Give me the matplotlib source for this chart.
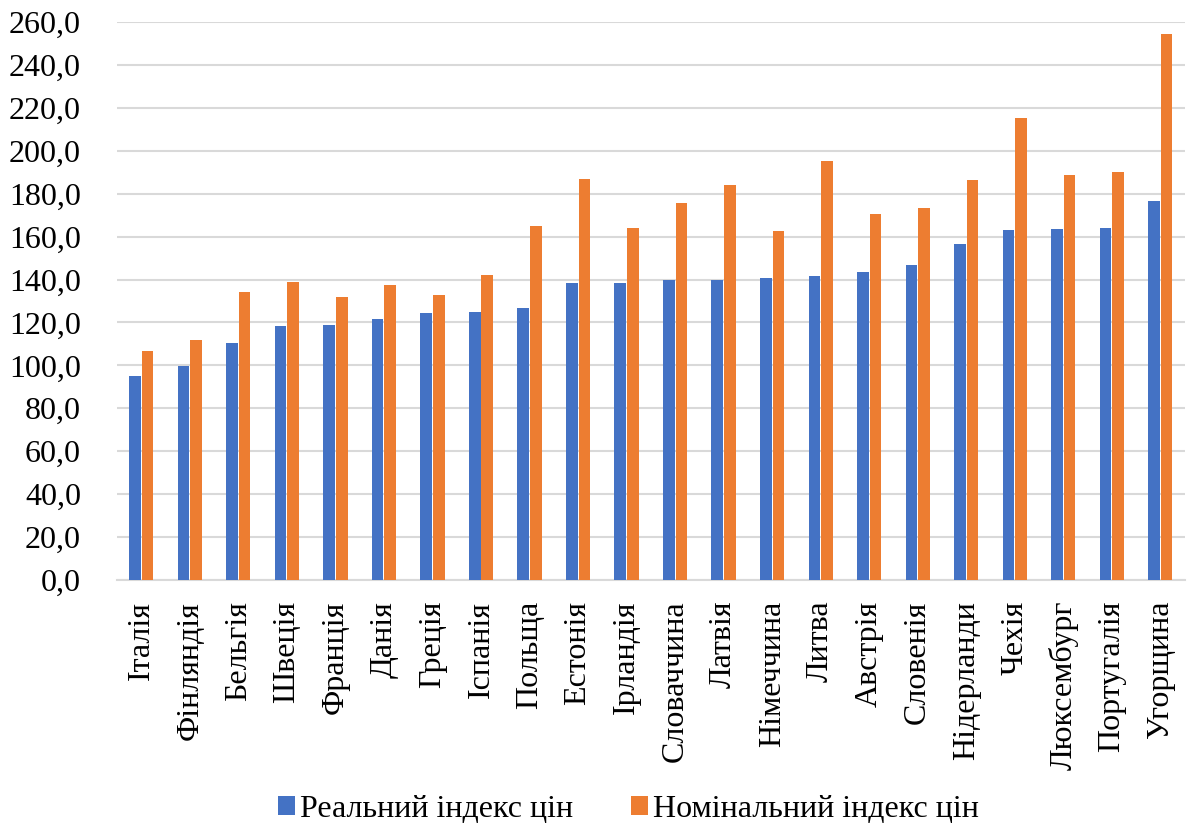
import matplotlib.pyplot as plt
import numpy as np

countries = ['Італія', 'Фінляндія', 'Бельгія', 'Швеція', 'Франція', 'Данія',
             'Греція', 'Іспанія', 'Польща', 'Естонія', 'Ірландія', 'Словаччина',
             'Латвія', 'Німеччина', 'Литва', 'Австрія', 'Словенія', 'Нідерланди',
             'Чехія', 'Люксембург', 'Португалія', 'Угорщина']
real_idx = [95.2, 99.5, 110.4, 118.3, 119.0, 121.5, 124.4, 125.0, 126.8, 138.2,
            138.4, 139.6, 139.6, 140.5, 141.7, 143.5, 146.9, 156.4, 163.3, 163.7,
            164.2, 176.7]
nominal_idx = [106.9, 111.7, 134.2, 139.0, 131.9, 137.4, 132.6, 142.1, 165.1, 186.9,
               164.0, 175.6, 184.0, 162.8, 195.1, 170.7, 173.5, 186.4, 215.2, 188.5,
               190.1, 254.5]
yticks = np.arange(0, 261, 20)

plt.rcParams['font.family'] = ['Liberation Serif', 'DejaVu Serif']

fig = plt.figure(figsize=(11.87, 8.27), dpi=100)
ax = fig.add_axes([0.0986, 0.2987, 0.8994, 0.6747])

x = np.arange(len(countries))
w = 0.24
ax.bar(x - 0.13, real_idx, w, color='#4472c4', label='Реальний індекс цін', zorder=3)
ax.bar(x + 0.13, nominal_idx, w, color='#ed7d31', label='Номінальний індекс цін', zorder=3)

ax.set_ylim(0, 260)
ax.set_xlim(-0.5, len(countries) - 0.5)
ax.set_yticks(yticks)
ax.yaxis.set_major_formatter(plt.FuncFormatter(lambda v, p: ('%.1f' % v).replace('.', ',')))
ax.grid(axis='y', color='#d9d9d9', linewidth=1.5, zorder=0)
ax.set_xticks(x)
ax.set_xticklabels(countries, rotation=90)
ax.tick_params(axis='y', length=0, pad=26, labelsize=23)
ax.tick_params(axis='x', length=0, pad=15, labelsize=23)
for s in ['top', 'right', 'left']:
    ax.spines[s].set_visible(False)
ax.spines['bottom'].set_color('#d9d9d9')
ax.spines['bottom'].set_linewidth(1.5)

fig.legend(loc='center', bbox_to_anchor=(0.5295, 0.021), ncol=2, frameon=False,
           fontsize=23, handlelength=0.55, handleheight=0.55, handletextpad=0.15,
           columnspacing=1.8)

fig.savefig('out.png', dpi=100)
